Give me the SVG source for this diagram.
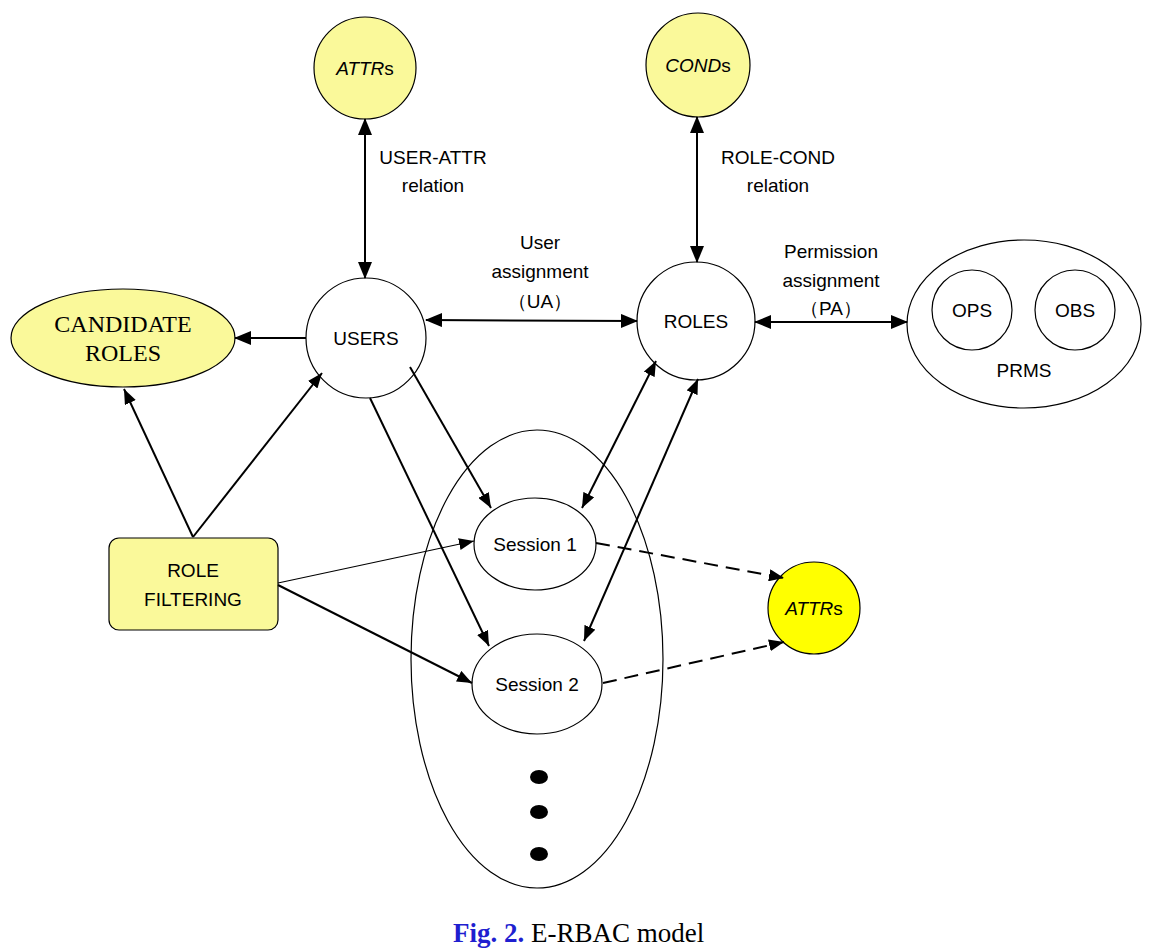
<svg xmlns="http://www.w3.org/2000/svg" width="1160" height="951" viewBox="0 0 1160 951">
<defs>
<marker id="ah" markerUnits="userSpaceOnUse" markerWidth="18" markerHeight="14" refX="16" refY="7" orient="auto-start-reverse"><path d="M0,0 L17,7 L0,14 Z" fill="#000"/></marker>
<marker id="ahs" markerUnits="userSpaceOnUse" markerWidth="16" markerHeight="12" refX="15" refY="6" orient="auto-start-reverse"><path d="M0,0 L15,6 L0,12 Z" fill="#000"/></marker>
</defs>
<style>
.n{fill:#fff;stroke:#000;stroke-width:1.2}
.y{fill:#FAF99A;stroke:#000;stroke-width:1.2}
.yy{fill:#FFFF00;stroke:#000;stroke-width:1.2}
.t{font-family:"Liberation Sans",Arial,sans-serif;font-size:19px;fill:#000;text-anchor:middle}
.s{font-family:"Liberation Serif","Times New Roman",serif;font-size:24px;fill:#000;text-anchor:middle}
.c{stroke:#000;stroke-width:2;fill:none}
.d{stroke:#000;stroke-width:2;fill:none;stroke-dasharray:14,8}
</style>
<rect width="1160" height="951" fill="#fff"/>
<g id="attrs-top">
<circle cx="365" cy="68" r="51" class="y"/>
<text x="365" y="75" class="t"><tspan font-style="italic">ATTR</tspan>s</text>
</g>
<g id="conds">
<circle cx="698" cy="65" r="52" class="y"/>
<text x="698" y="72" class="t"><tspan font-style="italic">COND</tspan>s</text>
</g>
<g id="users">
<circle cx="366" cy="338" r="60" class="n"/>
<text x="366" y="345" class="t">USERS</text>
</g>
<g id="roles">
<circle cx="696" cy="321" r="59" class="n"/>
<text x="696" y="328" class="t">ROLES</text>
</g>
<g id="candidate-roles">
<ellipse cx="123" cy="338" rx="112" ry="49" class="y"/>
<text x="123" y="332" class="s">CANDIDATE</text>
<text x="123" y="361" class="s">ROLES</text>
</g>
<g id="prms">
<ellipse cx="1024" cy="324" rx="117" ry="84" class="n"/>
<circle cx="972" cy="310" r="40" class="n"/>
<text x="972" y="317" class="t">OPS</text>
<circle cx="1075" cy="310" r="40" class="n"/>
<text x="1075" y="317" class="t">OBS</text>
<text x="1024" y="377" class="t">PRMS</text>
</g>
<g id="sessions">
<ellipse cx="537" cy="659" rx="126" ry="229" class="n"/>
<ellipse cx="535" cy="544" rx="61" ry="46" class="n"/>
<text x="535" y="551" class="t">Session 1</text>
<ellipse cx="537" cy="684" rx="65" ry="50" class="n"/>
<text x="537" y="691" class="t">Session 2</text>
<ellipse cx="539" cy="777" rx="9" ry="7" fill="#000"/>
<ellipse cx="539" cy="812" rx="9" ry="7" fill="#000"/>
<ellipse cx="539" cy="854" rx="9" ry="7" fill="#000"/>
</g>
<g id="role-filtering">
<rect x="109" y="538" width="169" height="92" rx="10" class="y"/>
<text x="193" y="577" class="t">ROLE</text>
<text x="193" y="606" class="t">FILTERING</text>
</g>
<g id="attrs-bottom">
<circle cx="814" cy="608" r="46" class="yy"/>
<text x="814" y="615" class="t"><tspan font-style="italic">ATTR</tspan>s</text>
</g>
<g id="connectors">
<line x1="365" y1="119" x2="365" y2="278" class="c" marker-start="url(#ah)" marker-end="url(#ah)"/>
<line x1="697" y1="117" x2="697" y2="262" class="c" marker-start="url(#ah)" marker-end="url(#ah)"/>
<line x1="426" y1="320" x2="637" y2="321" class="c" marker-start="url(#ah)" marker-end="url(#ah)"/>
<line x1="755" y1="322" x2="907" y2="322" class="c" marker-start="url(#ah)" marker-end="url(#ah)"/>
<line x1="306" y1="338" x2="235" y2="338" class="c" marker-end="url(#ah)"/>
<line x1="410" y1="367" x2="491" y2="508" class="c" marker-end="url(#ahs)"/>
<line x1="370" y1="398" x2="489" y2="646" class="c" marker-end="url(#ahs)"/>
<line x1="656" y1="361" x2="582" y2="508" class="c" marker-start="url(#ahs)" marker-end="url(#ahs)"/>
<line x1="698" y1="379" x2="584" y2="641" class="c" marker-start="url(#ahs)" marker-end="url(#ahs)"/>
<line x1="193" y1="537" x2="124" y2="389" class="c" marker-end="url(#ahs)"/>
<line x1="193" y1="537" x2="322" y2="373" class="c" marker-end="url(#ahs)"/>
<line x1="278" y1="583" x2="474" y2="541" stroke="#000" stroke-width="1.2" marker-end="url(#ahs)"/>
<line x1="278" y1="585" x2="472" y2="683" class="c" marker-end="url(#ahs)"/>
<line x1="596" y1="543" x2="784" y2="578" class="d" marker-end="url(#ahs)"/>
<line x1="603" y1="683" x2="784" y2="642" class="d" marker-end="url(#ahs)"/>
</g>
<g id="labels">
<text x="433" y="164" class="t">USER-ATTR</text>
<text x="433" y="192" class="t">relation</text>
<text x="778" y="164" class="t">ROLE-COND</text>
<text x="778" y="192" class="t">relation</text>
<text x="540" y="249" class="t">User</text>
<text x="540" y="278" class="t">assignment</text>
<text x="540" y="308" class="t">（UA）</text>
<text x="831" y="258" class="t">Permission</text>
<text x="831" y="287" class="t">assignment</text>
<text x="831" y="315" class="t">（PA）</text>
</g>
<g id="caption">
<text x="453" y="942" font-family="Liberation Serif,'Times New Roman',serif" font-size="27"><tspan fill="#1F1FD0" font-weight="bold">Fig. 2.</tspan> E-RBAC model</text>
</g>
</svg>
